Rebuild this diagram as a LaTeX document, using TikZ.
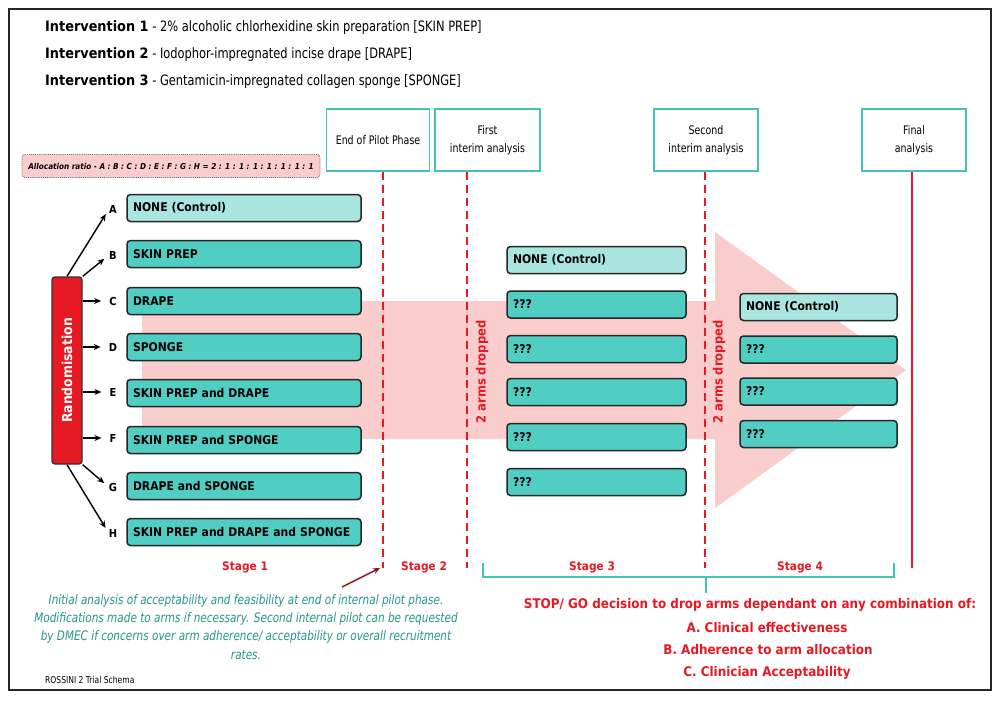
\documentclass[tikz,border=0pt]{standalone}
\usepackage{fontspec}
\setmainfont{DejaVu Sans}
\newfontfamily\tah{DejaVu Sans}[FakeStretch=0.8]
\newfontfamily\tahB{DejaVu Sans}[FakeStretch=0.9]
\usetikzlibrary{arrows.meta,calc}
\definecolor{armfill}{RGB}{80,206,196}
\definecolor{armlight}{RGB}{170,230,224}
\definecolor{msteal}{RGB}{70,195,185}
\definecolor{tred}{RGB}{230,25,35}
\definecolor{tpink}{RGB}{250,205,205}
\definecolor{noteteal}{RGB}{35,150,140}
\definecolor{tbrown}{RGB}{140,20,20}
\tikzset{
  armbox/.style={draw=black!85, line width=1.5pt, rounded corners=3.5pt, fill=armfill,
    minimum height=27pt, inner xsep=6pt, inner ysep=0pt, align=left,
    font=\tahB\bfseries\fontsize{12}{14}\selectfont},
  armA/.style={armbox, text width=222pt},
  arm3/.style={armbox, text width=167pt},
  arm4/.style={armbox, text width=145pt},
  ctrl/.style={fill=armlight},
  msbox/.style={draw=msteal, line width=1.6pt, fill=white, minimum height=62pt,
    inner sep=0pt, align=center, font=\tah\fontsize{11.8}{18}\selectfont},
  armlab/.style={inner sep=0pt, font=\tahB\bfseries\fontsize{11}{13}\selectfont},
  arr/.style={line width=1.4pt, -{Stealth[length=7pt,width=6pt]}},
  dashline/.style={draw=tred, line width=1.6pt, dash pattern=on 8pt off 5pt},
  solidred/.style={draw=tred, line width=1.8pt},
  stagelab/.style={text=tred, font=\tahB\bfseries\fontsize{11.8}{14}\selectfont},
  redbold/.style={text=tred, font=\tahB\bfseries\fontsize{13.3}{16}\selectfont},
  dropped/.style={text=tred, rotate=90, font=\tahB\bfseries\fontsize{12.8}{15}\selectfont},
  hdr/.style={anchor=base west, inner sep=0pt, font=\tah\fontsize{14.3}{17}\selectfont},
}
\begin{document}
\begin{tikzpicture}[x=1pt,y=-1pt]
\useasboundingbox (0,0) rectangle (1000,701);
\fill[white] (0,0) rectangle (1000,701);
\draw[line width=1.8pt, black!85] (9,9) rectangle (991,690);

% header
\node[hdr] (h1) at (45,32) {{\tahB\bfseries Intervention 1} - 2\% alcoholic chlorhexidine skin preparation [SKIN PREP]};
\node[hdr] (h2) at (45,59) {{\tahB\bfseries Intervention 2} - Iodophor-impregnated incise drape [DRAPE]};
\node[hdr] (h3) at (45,85) {{\tahB\bfseries Intervention 3} - Gentamicin-impregnated collagen sponge [SPONGE]};

% big arrow
\fill[tpink] (142,301) -- (715,301) -- (715,232) -- (906,370) -- (715,508) -- (715,439) -- (142,439) -- cycle;

% allocation box
\node[draw=black!60, densely dotted, line width=0.9pt, fill=tpink, rounded corners=3pt,
  minimum width=298pt, minimum height=23pt, inner sep=0pt,
  font=\tahB\bfseries\itshape\fontsize{8.1}{10}\selectfont] (alloc) at (171,166)
  {Allocation ratio - A : B : C : D : E : F : G : H = 2 : 1 : 1 : 1 : 1 : 1 : 1 : 1};

% milestone boxes
\node[msbox, minimum width=103pt] (m1) at (378,140) {End of Pilot Phase};
\node[msbox, minimum width=105pt] (m2) at (487.5,140) {First\\interim analysis};
\node[msbox, minimum width=104pt] (m3) at (706,140) {Second\\interim analysis};
\node[msbox, minimum width=104pt] (m4) at (914,140) {Final\\analysis};

% vertical lines
\coordinate (d1t) at (383,172); \coordinate (d1b) at (383,568);
\coordinate (d2t) at (467,172); \coordinate (d2b) at (467,568);
\coordinate (d3t) at (705,172); \coordinate (d3b) at (705,568);
\coordinate (ft) at (912,172); \coordinate (fb) at (912,568);
\draw[dashline] (d1t) -- (d1b);
\draw[dashline] (d2t) -- (d2b);
\draw[dashline] (d3t) -- (d3b);
\draw[solidred] (ft) -- (fb);

% stage 1 arms
\node[armA, ctrl] (aA) at (244,208) {NONE (Control)};
\node[armA] (aB) at (244,254) {SKIN PREP};
\node[armA] (aC) at (244,301) {DRAPE};
\node[armA] (aD) at (244,347) {SPONGE};
\node[armA] (aE) at (244,393) {SKIN PREP and DRAPE};
\node[armA] (aF) at (244,440) {SKIN PREP and SPONGE};
\node[armA] (aG) at (244,486) {DRAPE and SPONGE};
\node[armA] (aH) at (244,532) {SKIN PREP and DRAPE and SPONGE};

% labels
\node[armlab] (lA) at (113,209) {A};
\node[armlab] (lB) at (113,255) {B};
\node[armlab] (lC) at (113,301) {C};
\node[armlab] (lD) at (113,347) {D};
\node[armlab] (lE) at (113,392) {E};
\node[armlab] (lF) at (113,438) {F};
\node[armlab] (lG) at (113,487) {G};
\node[armlab] (lH) at (113,533) {H};

% randomisation
\node[draw=black!80, line width=1.4pt, fill=tred, rounded corners=3pt, minimum width=30pt,
  minimum height=187pt, inner sep=0pt] (rand) at (67,370.5) {};
\node[rotate=90, text=white, font=\tahB\bfseries\fontsize{13.8}{16}\selectfont] (randtxt) at (rand.center) {Randomisation};

\draw[arr, shorten >=6pt] (rand.north) -- (lA.west);
\draw[arr, shorten >=6pt] (rand.north east) -- (lB.west);
\draw[arr, shorten >=8pt] (rand.east |- lC) -- (lC.west);
\draw[arr, shorten >=8pt] (rand.east |- lD) -- (lD.west);
\draw[arr, shorten >=8pt] (rand.east |- lE) -- (lE.west);
\draw[arr, shorten >=8pt] (rand.east |- lF) -- (lF.west);
\draw[arr, shorten >=6pt] (rand.south east) -- (lG.west);
\draw[arr, shorten >=6pt] (rand.south) -- (lH.west);

% stage 3 arms
\node[arm3, ctrl] (s3a) at (596.5,260) {NONE (Control)};
\node[arm3] (s3b) at (596.5,304.5) {???};
\node[arm3] (s3c) at (596.5,349) {???};
\node[arm3] (s3d) at (596.5,392) {???};
\node[arm3] (s3e) at (596.5,437) {???};
\node[arm3] (s3f) at (596.5,482) {???};

% stage 4 arms
\node[arm4, ctrl] (s4a) at (818.5,307) {NONE (Control)};
\node[arm4] (s4b) at (818.5,349.5) {???};
\node[arm4] (s4c) at (818.5,391.5) {???};
\node[arm4] (s4d) at (818.5,434) {???};

% dropped labels
\node[dropped] (dr1) at (482,372) {2 arms dropped};
\node[dropped] (dr2) at (719,372) {2 arms dropped};

% stage labels
\node[stagelab] (st1) at (245,567) {Stage 1};
\node[stagelab] (st2) at (424,567) {Stage 2};
\node[stagelab] (st3) at (592,567) {Stage 3};
\node[stagelab] (st4) at (800,567) {Stage 4};

% bracket
\coordinate (bl) at (483,563); \coordinate (br) at (894,563);
\coordinate (bm) at (706,577); \coordinate (bmb) at (706,593);
\draw[msteal, line width=1.3pt] (bl) -- (bl |- bm) -- (br |- bm) -- (br);
\draw[msteal, line width=1.3pt] (bm) -- (bmb);

% stop/go text
\node[redbold] (stop) at (750,605) {STOP/ GO decision to drop arms dependant on any combination of:};
\node[redbold] (ca) at (767,628) {A. Clinical effectiveness};
\node[redbold] (cb) at (768,650) {B. Adherence to arm allocation};
\node[redbold] (cc) at (767,673) {C. Clinician Acceptability};

% note
\node[text=noteteal, align=center, inner sep=0pt, font=\tah\itshape\fontsize{13.1}{18.2}\selectfont] (note) at (246,627)
 {Initial analysis of acceptability and feasibility at end of internal pilot phase.\\
  Modifications made to arms if necessary. Second internal pilot can be requested\\
  by DMEC if concerns over arm adherence/ acceptability or overall recruitment\\
  rates.};
\coordinate (nS) at (342,587); \coordinate (nE) at (380,568);
\draw[tbrown, line width=1.5pt, -{Stealth[length=7pt,width=6pt]}] (nS) -- (nE);

\node[anchor=west, inner sep=0pt, font=\tah\fontsize{9.5}{11}\selectfont] (ross) at (45,680) {ROSSINI 2 Trial Schema};
\end{tikzpicture}
\end{document}
